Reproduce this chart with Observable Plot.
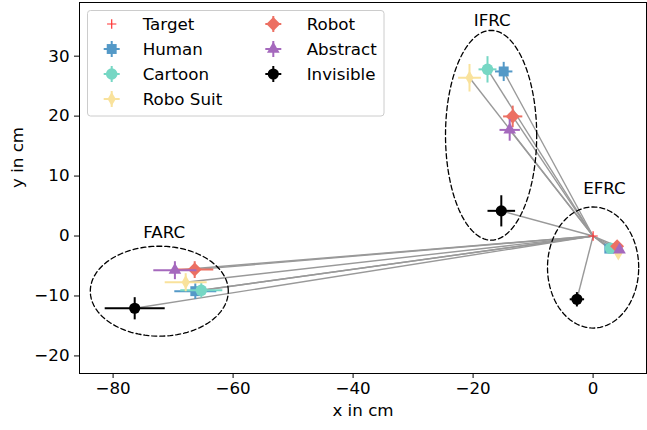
<!DOCTYPE html>
<html><head><meta charset="utf-8">
<script src="https://cdn.jsdelivr.net/npm/d3@7"></script>
<script src="https://cdn.jsdelivr.net/npm/@observablehq/plot@0.6"></script>
<style>body{margin:0;background:#fff;} #chart{width:647px;height:430px;}</style>
</head><body><div id="chart"></div>
<script>
// ---- data ----
const conditions = ["Human", "Cartoon", "Robo Suit", "Robot", "Abstract", "Invisible"];
const colors = ["#5499c7", "#76d7c4", "#f9e29c", "#ec7063", "#a569bd", "#000000"];
const symbols = ["square", "circle", "diamond", "diamond2", "triangle", "circle"];
const radii = [5.6, 5.8, 4.3, 6.3, 4.7, 5.6];

const targetX = [0];
const targetY = [0];

const farcX = [-66.3, -65.3, -67.9, -66.4, -69.7, -76.4];
const farcY = [-9.2, -9.05, -7.7, -5.6, -5.7, -12.05];
const farcXErr = [3.5, 3.5, 3.5, 3.1, 3.6, 5.0];
const farcYErr = [1.3, 1.2, 1.5, 1.4, 1.5, 1.85];

const ifrcX = [-14.9, -17.6, -20.6, -13.4, -13.9, -15.3];
const ifrcY = [27.45, 27.8, 26.4, 19.95, 17.7, 4.2];
const ifrcXErr = [1.45, 1.5, 1.9, 1.6, 1.7, 2.3];
const ifrcYErr = [1.6, 2.2, 2.3, 1.8, 1.8, 2.6];

const efrcX = [2.7, 2.9, 4.2, 4.0, 4.4, -2.7];
const efrcY = [-2.1, -2.05, -2.9, -1.7, -2.3, -10.55];
const efrcXErr = [0.5, 0.5, 0.5, 0.5, 0.5, 1.2];
const efrcYErr = [0.5, 0.5, 0.5, 0.5, 0.5, 1.2];

const regionNames = ["FARC", "IFRC", "EFRC"];
const ellipseCX = [-72.3, -17.0, 0.0];
const ellipseCY = [-9.2, 16.8, -5.25];
const ellipseRX = [11.5, 7.6, 7.6];
const ellipseRY = [7.5, 17.5, 10.1];
const regionLabelX = [-71.5, -16.8, 1.9];
const regionLabelY = [0.6, 35.95, 7.95];

const xTicks = [-80, -60, -40, -20, 0];
const yTicks = [-20, -10, 0, 10, 20, 30];

// ---- build tables ----
const regionSets = [
  [farcX, farcY, farcXErr, farcYErr],
  [ifrcX, ifrcY, ifrcXErr, ifrcYErr],
  [efrcX, efrcY, efrcXErr, efrcYErr]
];
const rows = [];
regionSets.forEach(([xs, ys, xe, ye], r) => {
  conditions.forEach((c, i) => {
    rows.push({region: regionNames[r], cond: c, ci: i, x: xs[i], y: ys[i], xe: xe[i], ye: ye[i]});
  });
});

const ellipsePts = [];
regionNames.forEach((name, r) => {
  d3.range(0, 360, 3).forEach(a => {
    const t = a * Math.PI / 180;
    ellipsePts.push({region: name, x: ellipseCX[r] + ellipseRX[r] * Math.cos(t), y: ellipseCY[r] + ellipseRY[r] * Math.sin(t)});
  });
});
const regionLabels = regionNames.map((n, i) => ({name: n, x: regionLabelX[i], y: regionLabelY[i]}));

const fmt = d3.format("d");
const font = "DejaVu Sans";
const fs = 16.7;

const marks = [
  Plot.link(rows, {x1: () => targetX[0], y1: () => targetY[0], x2: "x", y2: "y", stroke: "#999", strokeWidth: 1.4}),
  Plot.line(ellipsePts, {x: "x", y: "y", z: "region", curve: "linear-closed", stroke: "#000", strokeWidth: 1.3, strokeDasharray: "5,3"}),
  Plot.text(regionLabels, {x: "x", y: "y", text: "name", fontSize: fs, fill: "#000", textAnchor: "middle", lineAnchor: "middle"})
];
conditions.forEach((c, i) => {
  const sub = rows.filter(d => d.ci === i);
  marks.push(
    Plot.link(sub, {x1: d => d.x - d.xe, x2: d => d.x + d.xe, y1: "y", y2: "y", stroke: colors[i], strokeWidth: 2}),
    Plot.link(sub, {x1: "x", x2: "x", y1: d => d.y - d.ye, y2: d => d.y + d.ye, stroke: colors[i], strokeWidth: 2}),
    Plot.dot(sub, {x: "x", y: "y", symbol: symbols[i], r: radii[i], fill: colors[i], stroke: "none"})
  );
});
marks.push(
  Plot.dot(targetX.map((x, i) => ({x, y: targetY[i]})), {x: "x", y: "y", symbol: "plus", r: 3.1, stroke: "#f33", strokeWidth: 1.2, fill: "none"}),
  Plot.frame({stroke: "#000", strokeWidth: 1}),
  Plot.axisX({ticks: xTicks, tickFormat: fmt, tickSize: 5, tickPadding: 4, fontSize: fs, label: null, stroke: "#000", fill: "#000"}),
  Plot.axisY({ticks: yTicks, tickFormat: fmt, tickSize: 5, tickPadding: 5, fontSize: fs, label: null, stroke: "#000", fill: "#000"}),
  Plot.text(["x in cm"], {frameAnchor: "bottom", dy: 37, text: d => d, fontSize: fs, fill: "#000", lineAnchor: "middle"}),
  Plot.text(["y in cm"], {frameAnchor: "left", dx: -62, text: d => d, fontSize: fs, fill: "#000", rotate: -90, lineAnchor: "middle"})
);

const svg = Plot.plot({
  width: 647, height: 430,
  marginLeft: 79, marginRight: 1, marginTop: 2, marginBottom: 57,
  x: {domain: [-85.6, 8.9]},
  y: {domain: [-22.93, 38.95]},
  style: {fontFamily: font, fontSize: fs + "px", background: "white", color: "#000"},
  marks
});

// ---- legend ----
const sel = d3.select(svg);
const lg = sel.append("g").attr("font-family", font).attr("font-size", fs).attr("text-anchor", "start");
lg.append("rect").attr("x", 87.5).attr("y", 10.5).attr("width", 296.5).attr("height", 105.5)
  .attr("rx", 3).attr("fill", "white").attr("fill-opacity", 0.8).attr("stroke", "#ccc");
const symMap = {square: d3.symbolSquare, circle: d3.symbolCircle, diamond: d3.symbolDiamond, diamond2: d3.symbolDiamond2, triangle: d3.symbolTriangle, plus: d3.symbolPlus};
const legendItems = [{label: "Target", target: true}].concat(conditions.map((c, i) => ({label: c, i})));
const colX = [111.7, 273.3], labX = [142.7, 306.7], rowY = [24, 49, 74, 99];
legendItems.forEach((it, k) => {
  const col = k < 4 ? 0 : 1, row = k < 4 ? k : k - 4;
  const g = lg.append("g").attr("transform", `translate(${colX[col]},${rowY[row]})`);
  if (it.target) {
    g.append("path").attr("d", d3.symbol(d3.symbolPlus, Math.PI * 3.1 * 3.1)()).attr("fill", "none").attr("stroke", "#f33").attr("stroke-width", 1.2);
  } else {
    const i = it.i;
    g.append("line").attr("x1", -8).attr("x2", 8).attr("stroke", colors[i]).attr("stroke-width", 2);
    g.append("line").attr("y1", -8).attr("y2", 8).attr("stroke", colors[i]).attr("stroke-width", 2);
    g.append("path").attr("d", d3.symbol(symMap[symbols[i]], Math.PI * radii[i] * radii[i])()).attr("fill", colors[i]);
  }
  lg.append("text").attr("x", labX[col]).attr("y", rowY[row]).attr("dy", "0.35em").attr("text-anchor", "start").attr("fill", "#000").text(it.label);
});

document.getElementById("chart").appendChild(svg);
</script></body></html>
